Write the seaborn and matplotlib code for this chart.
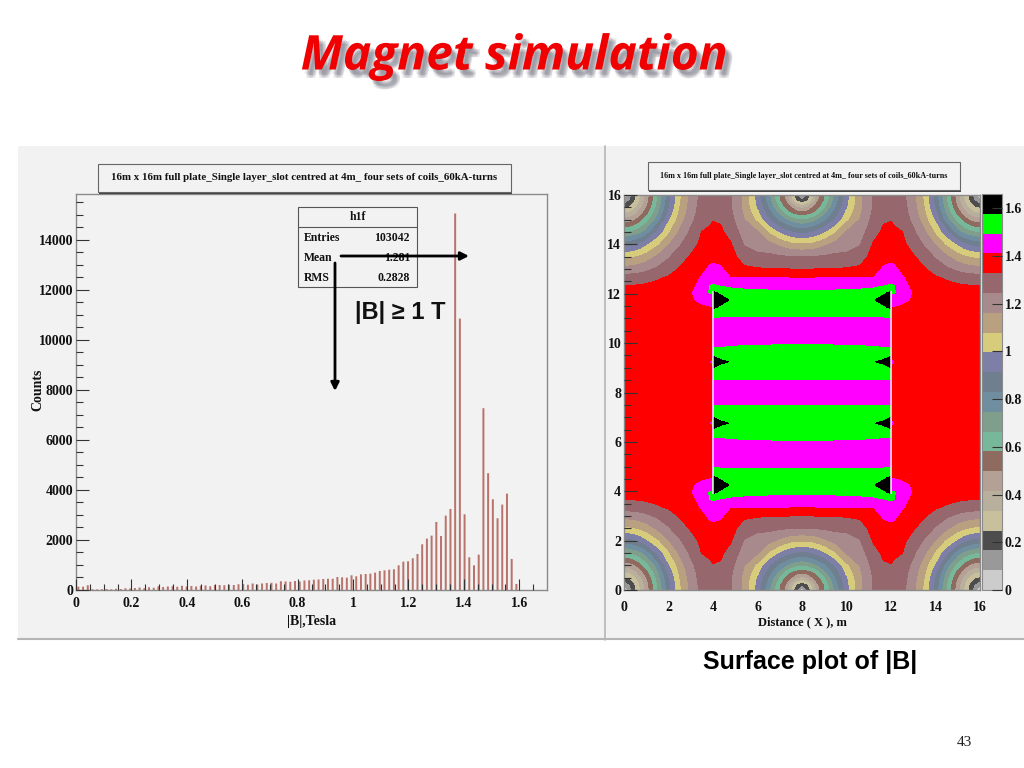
"""Magnet simulation slide: |B| histogram and surface plot of |B|."""
import numpy as np
import seaborn as sns
import matplotlib
matplotlib.use("Agg")
import matplotlib.pyplot as plt
import matplotlib.patheffects as pe
from matplotlib.colors import ListedColormap, BoundaryNorm
from matplotlib.patches import FancyArrowPatch, Rectangle
from matplotlib.lines import Line2D

W, H = 1024, 768

# histogram of |B| (bin width 0.017 T)
BIN_WIDTH = 0.017
COUNTS = [133, 133, 190, 30, 25, 30, 40, 30, 50, 40, 70, 60, 80, 100, 70, 110, 90, 150, 120, 140,
          150, 130, 170, 140, 160, 140, 170, 180, 150, 200, 200, 190, 210, 200, 230, 240, 210, 260,
          220, 260, 280, 290, 260, 350, 340, 330, 360, 340, 380, 390, 410, 420, 440, 450, 450, 520,
          507, 493, 587, 547, 627, 640, 653, 693, 760, 787, 813, 827, 987, 1133, 1147, 1267, 1440,
          1827, 2053, 2173, 2720, 2160, 2973, 3240, 15050, 10850, 3027, 1307, 987, 1413, 7267, 4667,
          3627, 2867, 3413, 3853, 1240, 240]
HIST_XTICKS = [0, 0.2, 0.4, 0.6, 0.8, 1, 1.2, 1.4, 1.6]
HIST_YTICKS = [0, 2000, 4000, 6000, 8000, 10000, 12000, 14000]
PLOT_TITLE = "16m x 16m full plate_Single layer_slot centred at 4m_ four sets of coils_60kA-turns"
STAT_NAMES = ["Entries", "Mean", "RMS"]
STAT_VALUES = ["103042", "1.281", "0.2828"]

# surface plot: one quadrant of |B|, the rest is its mirror image
QUAD_X = [0, 0.25, 0.5, 0.75, 1, 1.5, 2, 2.5, 3, 3.5, 3.85, 3.98, 4.02, 4.35, 4.8, 5.4, 6, 6.5,
          7, 7.25, 7.5, 7.75, 8]
QUAD_Y = [0, 0.25, 0.5, 0.75, 1, 1.5, 2, 2.5, 3, 3.35, 3.7, 3.95, 4.25, 4.55, 4.9, 5.05, 5.6, 6.1,
          6.3, 6.57, 6.76, 6.95, 7.4, 7.6, 8]
QUAD_B = [
    [.03, .107, .23, .335, .44, .655, .87, 1.06, 1.19, 1.27, 1.295, 1.30, 1.30, 1.285, 1.25, 1.135, .95, .76, .57, .47, .32, .17, .03],
    [.107, .168, .254, .35, .452, .664, .88, 1.065, 1.19, 1.275, 1.298, 1.305, 1.305, 1.29, 1.25, 1.137, .965, .79, .585, .505, .37, .25, .20],
    [.23, .254, .316, .398, .489, .69, .90, 1.076, 1.20, 1.28, 1.30, 1.31, 1.31, 1.295, 1.25, 1.14, .98, .82, .64, .555, .495, .415, .385],
    [.335, .35, .398, .465, .548, .725, .935, 1.093, 1.21, 1.285, 1.307, 1.317, 1.317, 1.307, 1.26, 1.15, 1.02, .87, .725, .645, .581, .55, .54],
    [.44, .452, .489, .548, .62, .775, .98, 1.115, 1.225, 1.29, 1.315, 1.325, 1.325, 1.32, 1.27, 1.165, 1.055, .92, .80, .755, .71, .675, .664],
    [.655, .664, .69, .725, .775, .93, 1.06, 1.175, 1.26, 1.33, 1.34, 1.345, 1.345, 1.34, 1.30, 1.205, 1.17, 1.065, .98, .945, .915, .898, .89],
    [.87, .88, .90, .935, .98, 1.06, 1.155, 1.235, 1.30, 1.345, 1.36, 1.365, 1.365, 1.365, 1.335, 1.24, 1.20, 1.19, 1.145, 1.12, 1.10, 1.09, 1.087],
    [1.06, 1.065, 1.076, 1.093, 1.115, 1.175, 1.235, 1.295, 1.335, 1.37, 1.385, 1.39, 1.39, 1.385, 1.36, 1.285, 1.27, 1.265, 1.255, 1.252, 1.25, 1.25, 1.25],
    [1.19, 1.195, 1.20, 1.21, 1.225, 1.26, 1.30, 1.335, 1.36, 1.39, 1.425, 1.43, 1.43, 1.42, 1.375, 1.345, 1.335, 1.33, 1.33, 1.33, 1.328, 1.328, 1.328],
    [1.28, 1.282, 1.285, 1.29, 1.30, 1.32, 1.335, 1.35, 1.375, 1.42, 1.46, 1.47, 1.47, 1.455, 1.41, 1.412, 1.41, 1.41, 1.41, 1.41, 1.408, 1.408, 1.408],
    [1.33, 1.332, 1.335, 1.338, 1.34, 1.345, 1.355, 1.365, 1.39, 1.44, 1.495, 1.50, 1.50, 1.495, 1.49, 1.485, 1.48, 1.478, 1.475, 1.474, 1.472, 1.471, 1.47],
    [1.345, 1.345, 1.345, 1.348, 1.35, 1.355, 1.36, 1.375, 1.405, 1.45, 1.50, 1.50, 1.59, 1.56, 1.505, 1.505, 1.505, 1.505, 1.503, 1.503, 1.503, 1.503, 1.503],
    [1.36, 1.36, 1.36, 1.36, 1.36, 1.36, 1.365, 1.38, 1.40, 1.43, 1.44, 1.44, 1.65, 1.61, 1.57, 1.535, 1.535, 1.53, 1.53, 1.53, 1.53, 1.53, 1.53],
    [1.365, 1.365, 1.365, 1.365, 1.365, 1.365, 1.37, 1.37, 1.375, 1.395, 1.405, 1.405, 1.59, 1.56, 1.515, 1.515, 1.515, 1.515, 1.515, 1.515, 1.515, 1.515, 1.515],
    [1.37] * 10 + [1.375, 1.375, 1.50, 1.497, 1.496, 1.497, 1.497, 1.497, 1.497, 1.497, 1.497, 1.497, 1.497],
    [1.37] * 10 + [1.37, 1.375, 1.485, 1.485, 1.485, 1.485, 1.485, 1.485, 1.485, 1.485, 1.485, 1.485, 1.485],
    [1.37] * 10 + [1.37, 1.375, 1.45, 1.45, 1.45, 1.45, 1.45, 1.45, 1.45, 1.45, 1.45, 1.45, 1.45],
    [1.37] * 10 + [1.37, 1.375, 1.485, 1.488, 1.49, 1.494, 1.495, 1.496, 1.497, 1.497, 1.497, 1.497, 1.497],
    [1.37] * 10 + [1.37, 1.375, 1.505, 1.505, 1.51, 1.51, 1.51, 1.51, 1.51, 1.51, 1.51, 1.51, 1.51],
    [1.37] * 10 + [1.375, 1.38, 1.585, 1.55, 1.52, 1.52, 1.52, 1.52, 1.52, 1.52, 1.52, 1.52, 1.52],
    [1.37] * 10 + [1.40, 1.45, 1.65, 1.60, 1.57, 1.53, 1.53, 1.53, 1.53, 1.53, 1.53, 1.53, 1.53],
    [1.37] * 10 + [1.375, 1.38, 1.585, 1.55, 1.525, 1.525, 1.525, 1.525, 1.525, 1.525, 1.525, 1.525, 1.525],
    [1.37] * 10 + [1.37, 1.375, 1.50, 1.50, 1.50, 1.50, 1.50, 1.50, 1.50, 1.50, 1.50, 1.50, 1.50],
    [1.37] * 10 + [1.37, 1.375, 1.485, 1.485, 1.485, 1.485, 1.485, 1.485, 1.485, 1.485, 1.485, 1.485, 1.485],
    [1.37] * 10 + [1.37, 1.375, 1.46, 1.46, 1.46, 1.46, 1.46, 1.46, 1.46, 1.46, 1.46, 1.46, 1.46],
]
COIL_X = [4, 12]
COIL_SPAN = [3.9, 12.1]
MAP_TICKS = [0, 2, 4, 6, 8, 10, 12, 14, 16]
BAR_TICKS = [0, 0.2, 0.4, 0.6, 0.8, 1, 1.2, 1.4, 1.6]
BAND_MAX = 1.66
BAND_COLORS = ["#cccccc", "#999999", "#4d4d4d", "#c8bf9c", "#b8b09c", "#b5a096", "#8f6a5f",
               "#78b89a", "#7f9f8c", "#6f8ea0", "#6f7f8f", "#7d7fa6", "#d6cc7c", "#b8a080",
               "#a98a8c", "#96676d", "#ff0000", "#ff00ff", "#00ff00", "#000000"]

SERIF = "Liberation Serif"
SANS = "Liberation Sans"
TICK_SIZE = 10
DARK = "#333333"
GREY = "#8a8a8a"


def fx(x):
    return x / W


def fy(y):
    return 1 - y / H


def axes_px(fig, left, top, right, bottom):
    """Axes placed by pixel edges, y counted from the top of the slide."""
    return fig.add_axes([fx(left), fy(bottom), (right - left) / W, (bottom - top) / H])


def add_rect(fig, left, top, right, bottom, zorder=1, **kw):
    fig.add_artist(Rectangle((fx(left), fy(bottom)), (right - left) / W, (bottom - top) / H,
                             transform=fig.transFigure, zorder=zorder, **kw))


def add_line(fig, xs, ys, **kw):
    fig.add_artist(Line2D([fx(x) for x in xs], [fy(y) for y in ys], transform=fig.transFigure, **kw))


def add_arrow(fig, start, end):
    fig.add_artist(FancyArrowPatch((fx(start[0]), fy(start[1])), (fx(end[0]), fy(end[1])),
                                   transform=fig.transFigure, arrowstyle="-|>", mutation_scale=12,
                                   lw=2, color="black", shrinkA=0, shrinkB=0, zorder=4))


def title_box(fig, left, top, right, bottom, size):
    add_rect(fig, left + 1, top + 1, right + 1, bottom + 1.5, facecolor="#444444", edgecolor="none")
    add_rect(fig, left, top, right, bottom, zorder=1.1, facecolor="#f2f2f2", edgecolor="#666666", lw=0.8)
    fig.text(fx((left + right) / 2), fy((top + bottom) / 2), PLOT_TITLE, ha="center", va="center",
             fontsize=size, fontweight="bold", family=SERIF, color="#111111")


def style_axes(ax):
    ax.set_axisbelow(False)
    for spine in ax.spines.values():
        spine.set_color(GREY)
        spine.set_linewidth(1.0)
        spine.set_visible(True)


def plot_histogram(fig):
    ax = axes_px(fig, 76, 194, 547, 590)
    centers = BIN_WIDTH / 2 + BIN_WIDTH * np.arange(len(COUNTS))
    sns.barplot(x=centers, y=COUNTS, native_scale=True, width=0.42, color="#b8736b",
                saturation=1, linewidth=0, errorbar=None, ax=ax)
    for bar in ax.patches:
        bar.set_snap(False)
    ax.set_facecolor("none")
    ax.set_xlim(0, 1.7)
    ax.set_ylim(0, 15830)
    ax.set_xticks(HIST_XTICKS, labels=[f"{v:g}" for v in HIST_XTICKS])
    ax.set_xticks(np.arange(0, 1.7, 0.05), minor=True)
    ax.set_yticks(HIST_YTICKS, labels=[str(v) for v in HIST_YTICKS])
    ax.set_yticks(np.arange(0, 15830, 500), minor=True)
    ax.tick_params(axis="y", which="major", direction="in", length=9.5, width=0.8, color=DARK, pad=2)
    ax.tick_params(axis="y", which="minor", direction="in", length=5, width=0.8, color=DARK)
    ax.tick_params(axis="x", which="major", direction="in", length=8, width=0.8, color=DARK, pad=5)
    ax.tick_params(axis="x", which="minor", direction="in", length=4, width=0.8, color=DARK)
    for label in ax.get_xticklabels() + ax.get_yticklabels():
        label.set(fontsize=TICK_SIZE, fontweight="bold", family=SERIF, color="#111111")
    style_axes(ax)
    fig.text(fx(312), fy(622), "|B|,Tesla", ha="center", va="center", fontsize=TICK_SIZE,
             fontweight="bold", family=SERIF, color="#111111")
    fig.text(fx(38), fy(390), "Counts", ha="center", va="center", rotation=90, fontsize=TICK_SIZE,
             fontweight="bold", family=SERIF, color="#111111")

    title_box(fig, 98, 164, 511, 192, 7.8)

    # statistics box
    add_rect(fig, 298, 207, 417, 287, facecolor="#f2f2f2", edgecolor="#555555", lw=0.8)
    add_line(fig, [298, 417], [227, 227], color="#555555", lw=0.8, zorder=2)
    fig.text(fx(357.5), fy(217), "h1f", ha="center", va="center", fontsize=8.5, fontweight="bold",
             family=SERIF, color="#111111")
    for row, (name, value) in enumerate(zip(STAT_NAMES, STAT_VALUES)):
        row_y = fy(238 + 20 * row)
        fig.text(fx(304), row_y, name, ha="left", va="center", fontsize=8.5, fontweight="bold",
                 family=SERIF, color="#111111")
        fig.text(fx(410), row_y, value, ha="right", va="center", fontsize=8.5, fontweight="bold",
                 family=SERIF, color="#111111")

    add_arrow(fig, (341, 256), (469, 256))
    add_arrow(fig, (335, 263), (335, 391))
    fig.text(fx(400), fy(312), "|B| \u2265 1 T", ha="center", va="center", fontsize=17,
             fontweight="bold", family=SANS, color="#111111")


def plot_surface(fig):
    ax = axes_px(fig, 624, 195, 980, 590)
    quad_x = np.array(QUAD_X, dtype=float)
    quad_y = np.array(QUAD_Y, dtype=float)
    quad_b = np.array(QUAD_B)
    x = np.r_[quad_x, 16 - quad_x[-2::-1]]
    y = np.r_[quad_y, 16 - quad_y[-2::-1]]
    field = np.hstack([quad_b, quad_b[:, -2::-1]])
    field = np.vstack([field, field[-2::-1]])

    levels = np.linspace(0, BAND_MAX, len(BAND_COLORS) + 1)
    cmap = ListedColormap(BAND_COLORS)
    norm = BoundaryNorm(levels, cmap.N)
    filled = ax.contourf(x, y, field, levels=levels, cmap=cmap, norm=norm)
    ax.vlines(COIL_X, COIL_SPAN[0], COIL_SPAN[1], color="#ffe6ff", lw=1.1, zorder=3)

    ax.set_xlim(0, 16)
    ax.set_ylim(0, 16)
    ax.set_xticks(MAP_TICKS, labels=[str(v) for v in MAP_TICKS])
    ax.set_yticks(MAP_TICKS, labels=[str(v) for v in MAP_TICKS])
    ax.set_yticks(np.arange(0, 16.1, 0.5), minor=True)
    ax.tick_params(axis="y", which="major", direction="in", length=9.5, width=0.8, color=DARK, pad=2)
    ax.tick_params(axis="y", which="minor", direction="in", length=5, width=0.8, color=DARK)
    ax.tick_params(axis="x", which="major", direction="in", length=0, pad=8)
    for label in ax.get_xticklabels() + ax.get_yticklabels():
        label.set(fontsize=TICK_SIZE, fontweight="bold", family=SERIF, color="#111111")
    style_axes(ax)
    fig.text(fx(802), fy(622), "Distance ( X ), m", ha="center", va="center", fontsize=TICK_SIZE - 1,
             fontweight="bold", family=SERIF, color="#111111")

    cax = axes_px(fig, 982, 194, 1002, 590)
    bar = fig.colorbar(filled, cax=cax, ticks=BAR_TICKS, spacing="proportional")
    bar.minorticks_off()
    bar.outline.set_edgecolor(GREY)
    bar.outline.set_linewidth(0.8)
    bar.set_ticklabels([f"{v:g}" for v in BAR_TICKS])
    cax.set_axisbelow(False)
    cax.tick_params(axis="y", which="major", direction="in", length=7, width=0.8, color=DARK, pad=2)
    for label in cax.get_yticklabels():
        label.set(fontsize=TICK_SIZE, fontweight="bold", family=SERIF, color="#111111")

    title_box(fig, 648, 162, 960, 190, 5.9)
    fig.text(fx(810), fy(662), "Surface plot of |B|", ha="center", va="center", fontsize=18,
             fontweight="bold", family=SANS, color="black")


if __name__ == "__main__":
    sns.set_theme(style="ticks")
    plt.rcParams["font.family"] = [SERIF, "DejaVu Sans"]
    fig = plt.figure(figsize=(W / 100, H / 100), dpi=100, facecolor="white")

    # the grey slide panel behind both plots
    add_rect(fig, 18, 146, 1024, 640, zorder=-2, facecolor="#f2f2f2", edgecolor="none")
    add_line(fig, [18, 1024], [639, 639], color="#b5b5b5", lw=1.5, zorder=-1)
    add_line(fig, [605, 605], [146, 640], color="#b5b5b5", lw=1.2, zorder=-1)

    plot_histogram(fig)
    plot_surface(fig)

    # soft drop shadow stacked under the red title
    shadow = [pe.SimplePatchShadow(offset=off, shadow_rgbFace="#555566", alpha=0.13)
              for off in [(2, -3), (3, -4), (4, -5), (5, -6), (3, -6), (5, -4)]]
    fig.text(fx(514), fy(57), "Magnet simulation", ha="center", va="center", fontsize=34.5,
             fontweight="bold", fontstyle="italic", family="Open Sans", color="#f00000",
             path_effects=shadow + [pe.Normal()])
    fig.text(fx(964), fy(743), "43", ha="center", va="center", fontsize=11, family=SERIF, color="#222222")

    fig.savefig("out.png", dpi=100, facecolor="white")
